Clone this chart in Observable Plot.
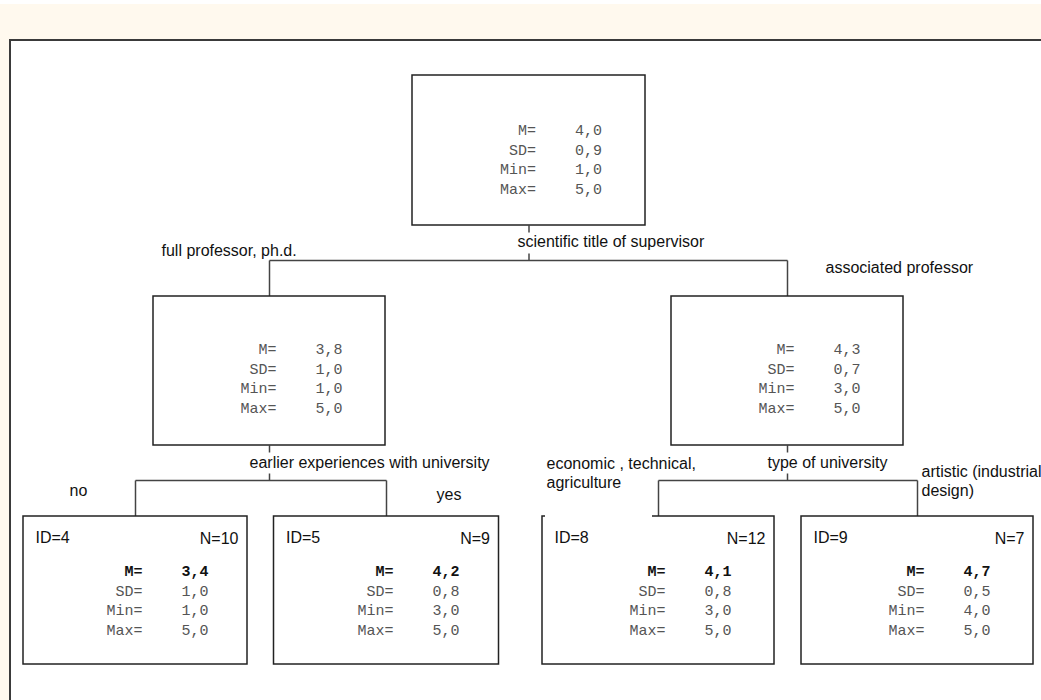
<!DOCTYPE html>
<html>
<head>
<meta charset="utf-8">
<script src="https://cdn.jsdelivr.net/npm/d3@7"></script>
<script src="https://cdn.jsdelivr.net/npm/@observablehq/plot@0.6"></script>
<style>
  html, body { margin: 0; padding: 0; overflow: hidden; }
  body { width: 1041px; height: 700px; background: linear-gradient(#ffffff 0 4px, #FFF9EE 4px); }
  #chart { position: absolute; left: 0; top: 0; }
</style>
</head>
<body>
<div id="chart"></div>
<script>
// ---------------- DATA ----------------
const nodeKeys     = ["root", "n1", "n2", "n4", "n5", "n8", "n9"];
const nodeParent   = [null, 0, 0, 1, 1, 2, 2];
const nodeLevel    = [0, 1, 1, 2, 2, 2, 2];
const nodeIDs      = [null, null, null, 4, 5, 8, 9];
const nodeN        = [null, null, null, 10, 9, 12, 7];
const nodeMean     = [4.0, 3.8, 4.3, 3.4, 4.2, 4.1, 4.7];
const nodeSD       = [0.9, 1.0, 0.7, 1.0, 0.8, 0.8, 0.5];
const nodeMin      = [1.0, 1.0, 3.0, 1.0, 3.0, 3.0, 4.0];
const nodeMax      = [5.0, 5.0, 5.0, 5.0, 5.0, 5.0, 5.0];
const splitVariables = ["scientific title of supervisor", "earlier experiences with university", "type of university", null, null, null, null];
const branchLabels = [null, "full professor, ph.d.", "associated professor", "no", "yes",
                      "economic , technical,\nagriculture", "artistic (industrial\ndesign)"];
const statLabels   = ["M=", "SD=", "Min=", "Max="];

// ---------------- LAYOUT ----------------
const W = 1041, H = 700;
const levelTop    = [75, 296, 516];
const levelHeight = [150, 149, 148];
const levelRow0   = [55, 53, 55];     // first stats row offset inside box
const rowStep     = 19.4;
const nodeCenter  = [528.5, 269, 787, 135, 386, 658, 917];
const nodeWidth   = [233, 232, 232, 224, 225, 232, 232];
const connectorY  = [260, 480];        // horizontal connector per parent level
const splitLabelOffset = [[-11.5, -19], [-20, -18], [-11, -17]];
const branchLabelOffset = [null, [-108, -10], [38, 7], [-66, 10], [50, 14], [-112, -8], [4, 0]];
const panel = {x1: 10, y1: 40, x2: W + 6, y2: H + 6};

const fmt = v => v.toFixed(1).replace(".", ",");

const nodes = nodeKeys.map((k, i) => {
  const lvl = nodeLevel[i];
  const cx = nodeCenter[i], w = nodeWidth[i];
  return {
    i, key: k, lvl, cx,
    x1: cx - w / 2, x2: cx + w / 2,
    y1: levelTop[lvl], y2: levelTop[lvl] + levelHeight[lvl],
    leaf: nodeIDs[i] != null
  };
});

// stats rows
const statRows = [];
nodes.forEach(n => {
  const vals = [nodeMean[n.i], nodeSD[n.i], nodeMin[n.i], nodeMax[n.i]];
  vals.forEach((v, r) => {
    statRows.push({
      node: n.i, row: r, leaf: n.leaf,
      label: statLabels[r], value: fmt(v),
      bold: n.leaf && r === 0,
      xl: n.cx + 7, xv: n.cx + 73,
      y: n.y1 + levelRow0[n.lvl] + r * rowStep
    });
  });
});

// connectors
const segs = [];
nodes.forEach(p => {
  const kids = nodes.filter(c => nodeParent[c.i] === p.i);
  if (!kids.length) return;
  const cy = connectorY[p.lvl];
  segs.push({x1: p.cx, y1: p.y2, x2: p.cx, y2: p.y2 + 7});
  segs.push({x1: p.cx, y1: cy - 7, x2: p.cx, y2: cy});
  const xs = kids.map(k => k.cx);
  segs.push({x1: d3.min(xs), y1: cy, x2: d3.max(xs), y2: cy});
  kids.forEach(k => segs.push({x1: k.cx, y1: cy, x2: k.cx, y2: k.y1}));
});

const splitTexts = nodes.filter(n => splitVariables[n.i]).map(n => ({
  text: splitVariables[n.i],
  x: n.cx + splitLabelOffset[n.lvl][0],
  y: connectorY[n.lvl] + splitLabelOffset[n.lvl][1]
}));

const branchTexts = nodes.filter(n => branchLabels[n.i]).map(n => ({
  text: branchLabels[n.i],
  x: n.cx + branchLabelOffset[n.i][0],
  y: connectorY[nodeLevel[nodeParent[n.i]]] + branchLabelOffset[n.i][1]
}));

// label background that hides part of the box border (as in the original)
const labelBg = nodes.filter(n => n.key === "n8").map(n => ({x1: n.x1 + 3, x2: n.cx - 6, y1: n.y1 - 40, y2: n.y1 + 2.5}));

const idTexts = nodes.filter(n => n.leaf).map(n => ({text: "ID=" + nodeIDs[n.i], x: n.x1 + 12, y: n.y1 + 21}));
const nTexts  = nodes.filter(n => n.leaf).map(n => ({text: "N=" + nodeN[n.i], x: n.x2 - 9, y: n.y1 + 22}));

const sans = "Liberation Sans, Arial, sans-serif";
const mono = "Liberation Mono, Courier New, monospace";
const fs = 16;

const chart = Plot.plot({
  width: W, height: H, margin: 0,
  x: {domain: [0, W], range: [0, W], axis: null},
  y: {domain: [0, H], range: [0, H], axis: null},
  style: {background: "transparent", overflow: "hidden"},
  marks: [
    Plot.rect([panel], {x1: "x1", x2: "x2", y1: "y1", y2: "y2", fill: "white", stroke: "#3a3a3a", strokeWidth: 2}),
    Plot.link(segs, {x1: "x1", y1: "y1", x2: "x2", y2: "y2", stroke: "#444", strokeWidth: 1.5}),
    Plot.rect(nodes, {x1: "x1", x2: "x2", y1: "y1", y2: "y2", fill: "white", stroke: "#222", strokeWidth: 1.5}),
    Plot.rect(labelBg, {x1: "x1", x2: "x2", y1: "y1", y2: "y2", fill: "white"}),
    Plot.text(splitTexts, {x: "x", y: "y", text: "text", textAnchor: "start", fontFamily: sans, fontSize: fs, fill: "#111"}),
    Plot.text(branchTexts, {x: "x", y: "y", text: "text", textAnchor: "start", fontFamily: sans, fontSize: fs, fill: "#111", lineHeight: 1.15}),
    Plot.text(idTexts, {x: "x", y: "y", text: "text", textAnchor: "start", fontFamily: sans, fontSize: fs, fill: "#111"}),
    Plot.text(nTexts, {x: "x", y: "y", text: "text", textAnchor: "end", fontFamily: sans, fontSize: fs, fill: "#111"}),
    Plot.text(statRows.filter(d => !d.bold), {x: "xl", y: "y", text: "label", textAnchor: "end", fontFamily: mono, fontSize: 15, fill: "#555"}),
    Plot.text(statRows.filter(d => !d.bold), {x: "xv", y: "y", text: "value", textAnchor: "end", fontFamily: mono, fontSize: 15, fill: "#555"}),
    Plot.text(statRows.filter(d => d.bold), {x: "xl", y: "y", text: "label", textAnchor: "end", fontFamily: mono, fontSize: 15, fontWeight: "bold", fill: "#111"}),
    Plot.text(statRows.filter(d => d.bold), {x: "xv", y: "y", text: "value", textAnchor: "end", fontFamily: mono, fontSize: 15, fontWeight: "bold", fill: "#111"})
  ]
});
document.getElementById("chart").appendChild(chart);
</script>
</body>
</html>
